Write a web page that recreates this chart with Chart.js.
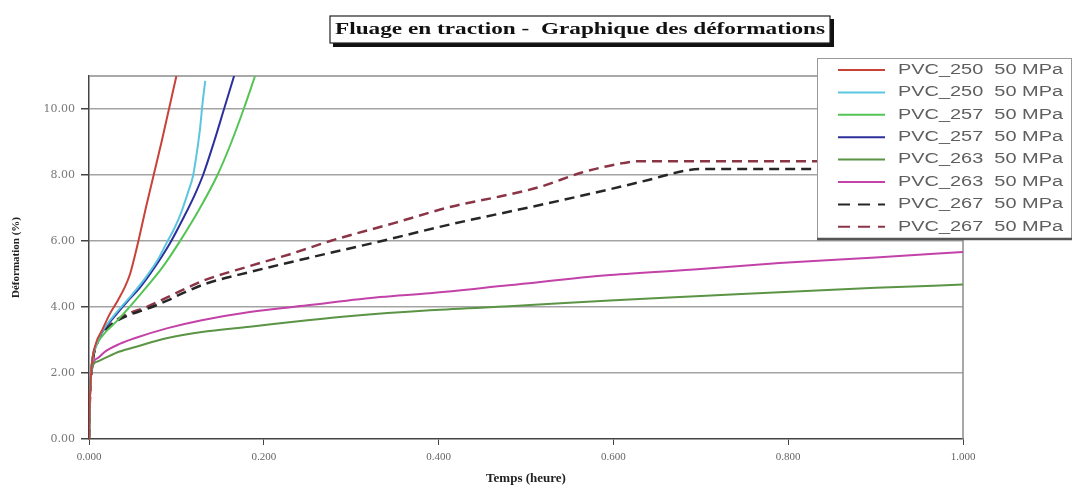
<!DOCTYPE html>
<html>
<head>
<meta charset="utf-8">
<script src="https://cdn.jsdelivr.net/npm/chart.js@4"></script>
<style>
  body { margin: 0; background: #fff; }
</style>
</head>
<body>
<canvas id="chart" width="1073" height="489"></canvas>
<script>
// valeurs : [temps (heure), déformation (%)]
const pvc250a = [[0,0],[0.001,1.2],[0.003,2.2],[0.008,2.9],[0.015,3.3],[0.024,3.8],[0.033,4.2],[0.041,4.6],[0.047,5.0],[0.052,5.5],[0.057,6.05],[0.065,7.0],[0.074,8.0],[0.083,9.0],[0.0915,10.0],[0.100,11.0]];
const pvc250b = [[0,0],[0.001,1.2],[0.003,2.2],[0.008,2.85],[0.016,3.3],[0.032,3.85],[0.05,4.4],[0.065,4.9],[0.078,5.4],[0.089,5.95],[0.098,6.4],[0.106,6.9],[0.113,7.45],[0.119,7.97],[0.1235,8.7],[0.127,9.4],[0.130,10.2],[0.133,10.85]];
const pvc257a = [[0,0],[0.001,1.2],[0.003,2.2],[0.008,2.8],[0.016,3.15],[0.032,3.58],[0.048,4.05],[0.065,4.58],[0.084,5.2],[0.103,5.95],[0.127,7.0],[0.147,8.0],[0.163,9.0],[0.177,10.0],[0.19,11.0]];
const pvc257b = [[0,0],[0.001,1.2],[0.003,2.2],[0.008,2.85],[0.016,3.27],[0.032,3.8],[0.045,4.2],[0.058,4.58],[0.075,5.2],[0.093,5.95],[0.109,6.75],[0.121,7.4],[0.1305,8.0],[0.143,9.0],[0.1545,10.0],[0.166,11.0]];
const pvc263a = [[0,0],[0.001,1.2],[0.004,2.2],[0.01,2.35],[0.018,2.45],[0.035,2.65],[0.053,2.79],[0.09,3.06],[0.129,3.24],[0.184,3.4],[0.25,3.6],[0.30,3.73],[0.39,3.9],[0.50,4.05],[0.596,4.2],[0.70,4.33],[0.79,4.45],[0.90,4.58],[1.0,4.68]];
const pvc263b = [[0,0],[0.001,1.2],[0.004,2.25],[0.01,2.45],[0.018,2.64],[0.035,2.88],[0.053,3.06],[0.09,3.36],[0.129,3.6],[0.184,3.85],[0.25,4.05],[0.333,4.3],[0.39,4.42],[0.48,4.66],[0.596,4.97],[0.70,5.15],[0.79,5.33],[0.90,5.5],[1.0,5.67]];
const pvc267a = [[0,0],[0.001,1.2],[0.004,2.3],[0.01,2.95],[0.018,3.25],[0.03,3.55],[0.045,3.75],[0.064,3.92],[0.09,4.2],[0.11,4.45],[0.133,4.7],[0.184,5.06],[0.25,5.48],[0.33,5.97],[0.413,6.5],[0.516,7.09],[0.593,7.55],[0.64,7.85],[0.68,8.12],[0.70,8.18],[1.0,8.18]];
const pvc267b = [[0,0],[0.001,1.2],[0.004,2.3],[0.01,2.95],[0.018,3.28],[0.03,3.58],[0.045,3.8],[0.064,3.98],[0.09,4.3],[0.11,4.55],[0.133,4.82],[0.184,5.24],[0.23,5.6],[0.276,6.0],[0.35,6.55],[0.413,7.03],[0.47,7.35],[0.516,7.64],[0.562,8.06],[0.59,8.25],[0.611,8.36],[0.63,8.42],[1.0,8.42]];

const seriesNames = ["PVC_250  50 MPa", "PVC_250  50 MPa", "PVC_257  50 MPa", "PVC_257  50 MPa",
  "PVC_263  50 MPa", "PVC_263  50 MPa", "PVC_267  50 MPa", "PVC_267  50 MPa"];
const seriesData = [pvc250a, pvc250b, pvc257a, pvc257b, pvc263a, pvc263b, pvc267a, pvc267b];
const seriesColors = ["#c8423a", "#5cc6e0", "#55c455", "#2c2f9c", "#5a9444", "#c242a8", "#262626", "#8a3446"];
const seriesDashed = [false, false, false, false, false, false, true, true];

const xTicks = [0, 0.2, 0.4, 0.6, 0.8, 1.0];
const yTicks = [0, 2, 4, 6, 8, 10];
const chartTitle = "Fluage en traction -  Graphique des déformations";
const xTitle = "Temps (heure)";
const yTitle = "Déformation (%)";

// draws text stretched horizontally to a given width
function wideText(ctx, text, x, y, width) {
  const w = ctx.measureText(text).width;
  ctx.save();
  ctx.translate(x, y);
  ctx.scale(width / w, 1);
  ctx.fillText(text, 0, 0);
  ctx.restore();
}

const framePlugin = {
  id: "frame",
  beforeDatasetsDraw(chart) {
    const a = chart.chartArea;
    const ctx = chart.ctx;
    ctx.save();
    ctx.strokeStyle = "#8c8c8c";
    ctx.lineWidth = 1.5;
    ctx.beginPath();
    ctx.moveTo(a.left, a.top);
    ctx.lineTo(a.right, a.top);
    ctx.lineTo(a.right, a.bottom);
    ctx.stroke();
    ctx.restore();
  },
};

const decorPlugin = {
  id: "decor",
  afterDraw(chart) {
    const ctx = chart.ctx;
    ctx.save();

    // title box with shadow
    ctx.fillStyle = "#111";
    ctx.fillRect(333, 19, 501, 28);
    ctx.fillStyle = "#fff";
    ctx.fillRect(330, 16, 500, 27);
    ctx.strokeStyle = "#222";
    ctx.lineWidth = 1.2;
    ctx.strokeRect(330, 16, 500, 27);
    ctx.fillStyle = "#111";
    ctx.font = "bold 17px 'Liberation Serif'";
    ctx.textBaseline = "alphabetic";
    wideText(ctx, chartTitle, 335, 34, 490);

    // legend box
    const lx = 817, ly = 58, lw = 255, lh = 181;
    ctx.fillStyle = "#fff";
    ctx.fillRect(lx, ly, lw, lh);
    ctx.strokeStyle = "#999";
    ctx.lineWidth = 1;
    ctx.strokeRect(lx + 0.5, ly + 0.5, lw - 1, lh - 1);
    ctx.strokeStyle = "#555";
    ctx.lineWidth = 2.5;
    ctx.beginPath();
    ctx.moveTo(lx, ly + lh);
    ctx.lineTo(lx + lw, ly + lh);
    ctx.stroke();

    ctx.font = "14px 'Liberation Sans'";
    ctx.textBaseline = "middle";
    seriesNames.forEach((name, i) => {
      const y = 70 + i * 22.4;
      ctx.strokeStyle = seriesColors[i];
      ctx.lineWidth = 2;
      ctx.setLineDash(seriesDashed[i] ? [12, 8] : []);
      ctx.beginPath();
      ctx.moveTo(838, y);
      ctx.lineTo(885, y);
      ctx.stroke();
      ctx.setLineDash([]);
      ctx.fillStyle = "#5e5e5e";
      wideText(ctx, name, 898, y, 165);
    });
    ctx.restore();
  },
};

const datasets = seriesData.map((pts, i) => ({
  label: seriesNames[i],
  data: pts.map((p) => ({ x: p[0], y: p[1] })),
  borderColor: seriesColors[i],
  backgroundColor: seriesColors[i],
  borderWidth: seriesDashed[i] ? 2.5 : 2,
  borderDash: seriesDashed[i] ? [10, 6] : [],
  pointRadius: 0,
  fill: false,
  cubicInterpolationMode: "monotone",
}));

var ctx = document.getElementById("chart").getContext("2d");
var myChart = new Chart(ctx, {
  type: "line",
  data: { datasets: datasets },
  plugins: [framePlugin, decorPlugin],
  options: {
    responsive: false,
    animation: false,
    layout: { padding: { left: 0, top: 76, right: 110, bottom: 0 } },
    plugins: {
      legend: { display: false },
      tooltip: { enabled: false },
      title: { display: false },
    },
    scales: {
      x: {
        type: "linear",
        min: 0,
        max: 1,
        afterBuildTicks: (axis) => {
          axis.ticks = xTicks.map((v) => ({ value: v }));
        },
        afterFit: (scale) => {
          scale.height = 50;
        },
        ticks: {
          callback: (v) => Number(v).toFixed(3),
          font: { family: "'Liberation Serif'", size: 11 },
          color: "#666",
          padding: 6,
          maxRotation: 0,
        },
        grid: { drawOnChartArea: false, drawTicks: true, tickLength: 6, tickColor: "#444" },
        border: { color: "#444", width: 1.5 },
        title: {
          display: true,
          text: xTitle,
          font: { family: "'Liberation Serif'", size: 13, weight: "bold" },
          color: "#222",
          padding: { top: 0, bottom: 3 },
        },
      },
      y: {
        type: "linear",
        min: 0,
        max: 11,
        afterBuildTicks: (axis) => {
          axis.ticks = yTicks.map((v) => ({ value: v }));
        },
        afterFit: (scale) => {
          scale.width = 89;
        },
        ticks: {
          callback: (v) => Number(v).toFixed(2),
          font: { family: "'DejaVu Serif'", size: 11 },
          color: "#777",
          padding: 6,
        },
        grid: {
          color: (c) => (c.tick && c.tick.value === 0 ? "rgba(0,0,0,0)" : "#a3a3a3"),
          lineWidth: 1.5,
          tickLength: 8,
          tickColor: "#444",
        },
        border: { color: "#444", width: 1.5 },
        title: {
          display: true,
          text: yTitle,
          font: { family: "'Liberation Serif'", size: 11, weight: "bold" },
          color: "#222",
          padding: { top: 10, bottom: 0 },
        },
      },
    },
  },
});
</script>
</body>
</html>
